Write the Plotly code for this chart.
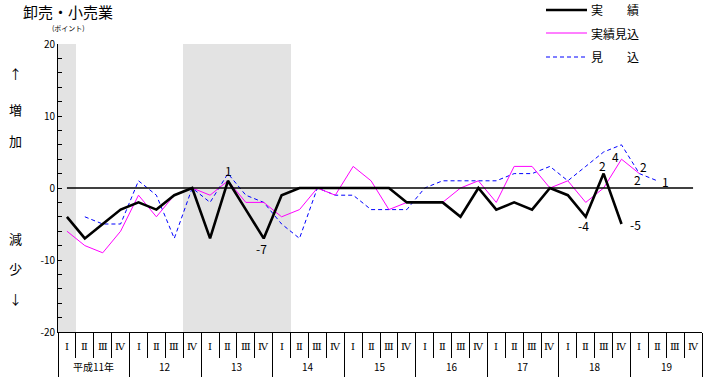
import plotly.graph_objects as go

# ---- data ----
years = ["平成11年", "12", "13", "14", "15", "16", "17", "18", "19"]
quarters = ["Ⅰ", "Ⅱ", "Ⅲ", "Ⅳ"]
n_q = len(years) * len(quarters)

actual_x = list(range(0, 32))
actual = [-4, -7, -5, -3, -2, -3, -1, 0, -7, 1, -3, -7, -1, 0, 0, 0,
          0, 0, 0, -2, -2, -2, -4, 0, -3, -2, -3, 0, -1, -4, 2, -5]
est_actual_x = list(range(0, 33))
est_actual = [-6, -8, -9, -6, -1, -4, -1, 0, -1, 1, -2, -2, -4, -3, 0, -1,
              3, 1, -3, -2, -2, -2, 0, 1, -2, 3, 3, 0, 1, -2, 0, 4, 2]
forecast_x = list(range(1, 34))
forecast = [-4, -5, -5, 1, -1, -7, 0, -2, 2, -1, -2, -5, -7, 0, -1, -1,
            -3, -3, -3, 0, 1, 1, 1, 1, 2, 2, 3, 1, 3, 5, 6, 2, 1]

# recession periods (first, last quarter index)
recessions = [(0, 0), (7, 12)]

# value labels: (series, index)
labels_actual = [9, 11, 29, 30, 31]
labels_est = [31, 32]
labels_fc = [32, 33]

# ---- layout geometry (pixels) ----
WID, HEI = 706, 377
L, R, T, B = 58, 4, 44, 45
PW, PH = WID - L - R, HEI - T - B
FONT = "Noto Sans CJK JP"
QFONT = "DejaVu Serif, Noto Sans CJK JP"


def px(x):
    return (x - L) / PW


def py(y):
    return (T + PH - y) / PH


fig = go.Figure()

# shaded recession bands
for a, b in recessions:
    fig.add_trace(go.Bar(
        x=[(a + b) / 2], y=[40], base=[-20], width=[b - a + 1],
        marker=dict(color="#e3e3e3", line=dict(width=0)),
        showlegend=False, hoverinfo="skip"))

fig.add_trace(go.Scatter(x=forecast_x, y=forecast, mode="lines",
                         line=dict(color="#0000ff", width=1, dash="4px,3px"),
                         showlegend=False))
fig.add_trace(go.Scatter(x=est_actual_x, y=est_actual, mode="lines",
                         line=dict(color="#ff00ff", width=1),
                         showlegend=False))
fig.add_trace(go.Scatter(x=actual_x, y=actual, mode="lines",
                         line=dict(color="black", width=2.6),
                         showlegend=False))

# zero line
fig.add_shape(type="line", x0=0, x1=n_q - 1, y0=0, y1=0, xref="x", yref="y",
              line=dict(color="black", width=1.5), layer="above")

ann = []
tf = dict(family=FONT, size=12, color="black")


def lab(xv, yv, xs, ys):
    ann.append(dict(x=xv, y=yv, xref="x", yref="y", text=str(yv),
                    xanchor="center", yanchor="middle",
                    showarrow=False, xshift=xs, yshift=ys, font=tf))


offs_a = {9: (1, 10), 11: (-2, -10), 29: (-2, -9), 30: (-1, 8), 31: (14, 0)}
for i in labels_actual:
    lab(actual_x[i], actual[i], *offs_a[i])
offs_e = {31: (-6, 3), 32: (-2, -6)}
for i in labels_est:
    lab(est_actual_x[i], est_actual[i], *offs_e[i])
offs_f = {32: (4, 7), 33: (8, -1)}
for i in labels_fc:
    lab(forecast_x[i - 1], forecast[i - 1], *offs_f[i])


def text_px(x, y, s, size, xanchor="center"):
    ann.append(dict(x=px(x), y=py(y), xref="paper", yref="paper", text=s,
                    xanchor=xanchor, yanchor="middle", showarrow=False,
                    font=dict(family=FONT, size=size, color="black")))


# quarter / year labels
for k, yr in enumerate(years):
    for q, qn in enumerate(quarters):
        ann.append(dict(x=k * 4 + q, y=py(346), xref="x", yref="paper",
                        text=qn, showarrow=False, xanchor="center", yanchor="middle",
                        font=dict(family=QFONT, size=10, color="black")))
    ann.append(dict(x=k * 4 + 1.5, y=py(366), xref="x", yref="paper",
                    text=yr, showarrow=False, xanchor="center", yanchor="middle",
                    font=dict(family=FONT, size=10, color="black")))

# title
text_px(21, 11, "卸売・小売業", 15, "left")
text_px(68, 28, "(ポイント)", 7)

# side labels
for ch, yy in [("↑", 74), ("増", 109), ("加", 140), ("減", 238), ("少", 268), ("↓", 298)]:
    text_px(15, yy, ch, 13)

# manual legend
leg = [("実　　績", 10, dict(color="black", width=2.6)),
       ("実績見込", 33, dict(color="#ff00ff", width=1)),
       ("見　　込", 57, dict(color="#0000ff", width=1, dash="4px,3px"))]
for txt, yy, ln in leg:
    fig.add_shape(type="line", xref="paper", yref="paper", x0=px(546), x1=px(587),
                  y0=py(yy), y1=py(yy), line=ln)
    text_px(589, yy, txt, 12, "left")

yvals = list(range(-20, 21, 2))
ytext = [str(v) if v % 10 == 0 else "" for v in yvals]

fig.update_layout(
    width=WID, height=HEI, margin=dict(l=L, r=R, t=T, b=B, autoexpand=False),
    paper_bgcolor="white", plot_bgcolor="white",
    annotations=ann, bargap=0, barmode="overlay",
    xaxis=dict(range=[-0.5, n_q - 0.5], showgrid=False, zeroline=False,
               automargin=False,
               showline=True, linecolor="black", linewidth=1,
               tickmode="array", tickvals=[k * 4 - 0.5 for k in range(len(years) + 1)],
               ticks="outside", ticklen=46, tickcolor="black", tickwidth=1,
               showticklabels=False,
               minor=dict(tick0=-0.5, dtick=1, ticks="outside", ticklen=25,
                          tickcolor="black", tickwidth=1)),
    yaxis=dict(range=[-20, 20], showgrid=False, zeroline=False,
               automargin=False,
               showline=True, linecolor="black", linewidth=1,
               tickmode="array", tickvals=yvals, ticktext=ytext,
               ticks="inside", ticklen=4, tickcolor="black",
               tickfont=dict(family=FONT, size=10, color="black")),
)

fig.write_html("out.html", config={"displayModeBar": False},
               post_script="document.body.style.margin='0';document.body.style.overflow='hidden';")
